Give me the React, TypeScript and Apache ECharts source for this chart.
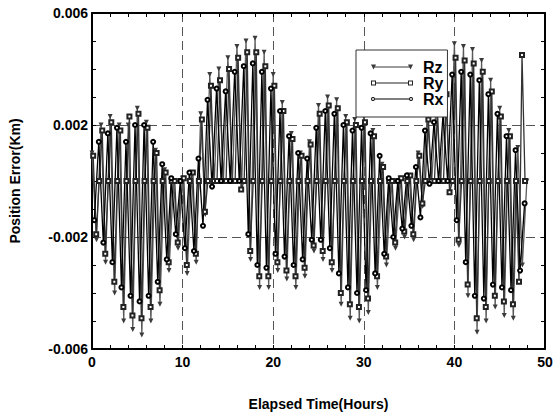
import React, { useEffect, useRef } from 'react';
import * as echarts from 'echarts';

// ---- data (values in metres = 1e-3 Km) ----
const SERIES_NAMES = ['Rz', 'Ry', 'Rx'];
const X_MIN = 0, X_MAX = 50, X_INTERVAL = 10;
const Y_MIN = -0.006, Y_MAX = 0.006, Y_INTERVAL = 0.004;

// Rz sampled every 0.5 h from t = 0
const RZ_T0 = 0, RZ_STEP = 0.5;
const rzMetres = [
  1.0, -2.1, 2.0, -2.9, 2.3, -4.0, 2.0, -5.0, 2.0, -5.3, 2.6, -5.5, 2.1, -5.0, 1.1, -4.4,
  0.4, -3.2, 0.0, -2.4, 0.1, -3.3, 0.3, -2.9, 2.4, -1.2, 3.8, 0.0, 4.0, 0.0, 4.4, 0.0,
  4.8, -0.3, 5.0, -2.8, 5.1, -3.8, 4.6, -3.8, 3.8, -3.2, 2.8, -3.5, 1.7, -3.8, 1.0, -3.4,
  1.4, -2.5, 2.7, -2.8, 3.0, -3.2, 2.9, -4.4, 2.3, -4.9, 2.2, -5.0, 2.3, -4.7, 1.8, -3.8,
  0.6, -3.0, 0.0, -2.4, 0.1, -2.0, 0.2, -2.1, 1.0, -0.9, 2.4, 0.0, 2.8, 0.0, 3.4, -0.4,
  4.9, -2.3, 4.8, -4.1, 4.7, -5.4, 4.3, -5.0, 3.6, -4.5, 2.6, -4.8, 1.8, -4.9, 1.2, -3.0,
  0.0,
];

// Ry sampled every 1/3 h from t = 0.13
const RY_T0 = 0.13, RY_STEP = 1 / 3;
const ryMetres = [
  0.9, -1.9, 0, 1.8, -2.6, 0, 2.1, -3.6, 0, 1.8, -4.5, 0, 2.3, -4.8, 0, 2.4, -4.9, 0,
  1.9, -4.5, 0, 1.0, -3.9, 0, 0.3, -2.9, 0, 0.0, -2.2, 0, 0.1, -3.0, 0, 0.3, -2.6, 0,
  2.2, -1.1, 0, 3.4, 0.0, 0, 3.6, 0.0, 0, 4.0, 0.0, 0, 4.4, -0.3, 0, 4.6, -2.5, 0,
  4.6, -3.4, 0, 4.1, -3.4, 0, 3.4, -2.9, 0, 2.5, -3.2, 0, 1.5, -3.4, 0, 0.9, -3.1, 0,
  1.3, -2.3, 0, 2.4, -2.5, 0, 2.7, -2.9, 0, 2.6, -4.0, 0, 2.1, -4.4, 0, 2.0, -4.5, 0,
  2.1, -4.2, 0, 1.6, -3.4, 0, 0.5, -2.7, 0, 0.0, -2.2, 0, 0.1, -1.8, 0, 0.2, -1.9, 0,
  0.9, -0.8, 0, 2.2, 0.0, 0, 2.5, 0.0, 0, 3.1, -0.4, 0, 4.4, -2.1, 0, 4.3, -3.7, 0,
  4.2, -4.9, 0, 3.9, -4.5, 0, 3.2, -4.1, 0, 2.3, -4.3, 0, 1.6, -4.4, 0, -3.6, 4.5, 0,
];

// Rx sampled every 0.5 h from t = 0.25
const RX_T0 = 0.25, RX_STEP = 0.5;
const rxMetres = [
  -1.4, 1.4, -2.2, 1.7, -2.9, 1.9, -3.8, 1.4, -4.1, 2.0, -4.3, 2.0, -4.1, 1.4, -3.6, 0.6,
  -2.8, 0.1, -1.9, 0.0, -2.4, 0.3, -2.5, 0.8, -1.6, 2.9, -0.2, 3.3, 0.0, 3.2, 0.0, 3.9,
  0.0, 4.1, -1.9, 4.2, -3.0, 3.9, -3.1, 3.3, -2.6, 2.5, -2.7, 1.6, -3.0, 1.0, -2.8, 0.8,
  -2.1, 1.9, -2.1, 2.5, -2.4, 2.4, -3.3, 2.0, -3.8, 1.8, -4.0, 1.9, -3.9, 1.7, -3.3, 0.9,
  -2.6, 0.1, -2.0, 0.0, -1.7, 0.2, -1.6, 0.5, -1.3, 1.8, -0.1, 2.1, 0.0, 2.4, 0.0, 3.8,
  -1.4, 3.9, -2.9, 3.8, -4.1, 3.6, -4.2, 3.1, -3.7, 2.4, -3.8, 1.6, -3.9, 1.1, -3.2, -0.8,
];

const toPairs = (t0: number, step: number, metres: number[]) =>
  metres.map((m, i) => [Math.round((t0 + i * step) * 1000) / 1000, m / 1000]);

const FONT = '"Liberation Sans", Arial, sans-serif';

const ICON_RZ = 'path://M0,0H5L2.5,5Z M37,0H42L39.5,5Z M2.5,2H39.5V3H2.5Z';
const ICON_RY = 'path://M0,0H5V5H0Z M1,1V4H4V1Z M37,0H42V5H37Z M38,1V4H41V1Z M5,2H37V3H5Z';
const ICON_RX = 'path://M0,2.5A2,2 0 1,1 4,2.5A2,2 0 1,1 0,2.5Z M1,2.5A1,1 0 1,0 3,2.5A1,1 0 1,0 1,2.5Z M38,2.5A2,2 0 1,1 42,2.5A2,2 0 1,1 38,2.5Z M39,2.5A1,1 0 1,0 41,2.5A1,1 0 1,0 39,2.5Z M4,2H38V3H4Z';

export default function App() {
  const ref = useRef<HTMLDivElement>(null);
  useEffect(() => {
    if (!ref.current) return;
    const chart = echarts.init(ref.current, undefined, { renderer: 'svg' });
    const lineAxis = { show: true, onZero: false, lineStyle: { color: '#000', width: 2 } };
    const tick = { show: true, inside: true, length: 4, lineStyle: { color: '#000', width: 1 } };
    const labelStyle = { fontFamily: FONT, fontWeight: 'bold' as const, fontSize: 14, color: '#000' };
    const nameStyle = { fontFamily: FONT, fontWeight: 'bold' as const, fontSize: 14, color: '#000' };
    const split = {
      show: true, showMinLine: false, showMaxLine: false,
      lineStyle: { color: '#555', type: [9, 5], width: 1 },
    };
    const option: any = {
      animation: false,
      backgroundColor: '#fff',
      grid: { left: 92, top: 13, right: 15, bottom: 67, containLabel: false },
      legend: {
        orient: 'vertical',
        left: 356,
        top: 50,
        backgroundColor: '#fff',
        borderColor: '#333',
        borderWidth: 1,
        borderRadius: 0,
        padding: [9, 4, 10, 15],
        itemGap: 0,
        itemWidth: 42,
        itemHeight: 5,
        selectedMode: false,
        textStyle: { fontFamily: FONT, fontWeight: 'bold', fontSize: 16, color: '#000', lineHeight: 16, padding: [0, 0, 0, 5] },
        data: [
          { name: SERIES_NAMES[0], icon: ICON_RZ },
          { name: SERIES_NAMES[1], icon: ICON_RY },
          { name: SERIES_NAMES[2], icon: ICON_RX },
        ],
      },
      xAxis: [
        {
          type: 'value', position: 'bottom', min: X_MIN, max: X_MAX, interval: X_INTERVAL,
          name: 'Elapsed Time(Hours)', nameLocation: 'middle', nameGap: 48, nameTextStyle: nameStyle,
          axisLine: lineAxis, axisTick: tick,
          minorTick: { show: true, splitNumber: 5, length: 4, lineStyle: { color: '#000' } },
          axisLabel: { ...labelStyle, margin: 6 },
          splitLine: split,
        },
        {
          type: 'value', position: 'top', min: X_MIN, max: X_MAX, interval: X_INTERVAL,
          axisLine: lineAxis, axisTick: tick,
          minorTick: { show: true, splitNumber: 5, length: 4, lineStyle: { color: '#000' } },
          axisLabel: { show: false }, splitLine: { show: false },
        },
      ],
      yAxis: [
        {
          type: 'value', position: 'left', min: Y_MIN, max: Y_MAX, interval: Y_INTERVAL,
          name: 'Position Error(Km)', nameLocation: 'middle', nameGap: 70, nameTextStyle: nameStyle,
          axisLine: lineAxis, axisTick: tick,
          minorTick: { show: true, splitNumber: 4, length: 4, lineStyle: { color: '#000' } },
          axisLabel: { ...labelStyle, margin: 4, formatter: (v: number) => v.toFixed(3) },
          splitLine: split,
        },
        {
          type: 'value', position: 'right', min: Y_MIN, max: Y_MAX, interval: Y_INTERVAL,
          axisLine: lineAxis, axisTick: tick,
          minorTick: { show: true, splitNumber: 4, length: 4, lineStyle: { color: '#000' } },
          axisLabel: { show: false }, splitLine: { show: false },
        },
      ],
      series: [
        {
          name: SERIES_NAMES[0], type: 'line', data: toPairs(RZ_T0, RZ_STEP, rzMetres),
          symbol: 'triangle', symbolRotate: 180, symbolSize: 5, showSymbol: true,
          lineStyle: { color: '#5a5a5a', width: 1.3 }, itemStyle: { color: '#3a3a3a' },
          emphasis: { disabled: true }, silent: true,
        },
        {
          name: SERIES_NAMES[1], type: 'line', data: toPairs(RY_T0, RY_STEP, ryMetres),
          symbol: 'emptyRect', symbolSize: 4, showSymbol: true,
          lineStyle: { color: '#333', width: 1.3 }, itemStyle: { color: '#222', borderWidth: 1.4 },
          emphasis: { disabled: true }, silent: true,
        },
        {
          name: SERIES_NAMES[2], type: 'line', data: toPairs(RX_T0, RX_STEP, rxMetres),
          symbol: 'emptyCircle', symbolSize: 4, showSymbol: true,
          lineStyle: { color: '#000', width: 1.3 }, itemStyle: { color: '#000', borderWidth: 1 },
          emphasis: { disabled: true }, silent: true,
        },
      ],
    };
    chart.setOption(option);
    return () => chart.dispose();
  }, []);
  return (
    <div
      ref={ref}
      style={{ position: 'fixed', left: 0, top: 0, width: 560, height: 416, background: '#fff' }}
    />
  );
}
